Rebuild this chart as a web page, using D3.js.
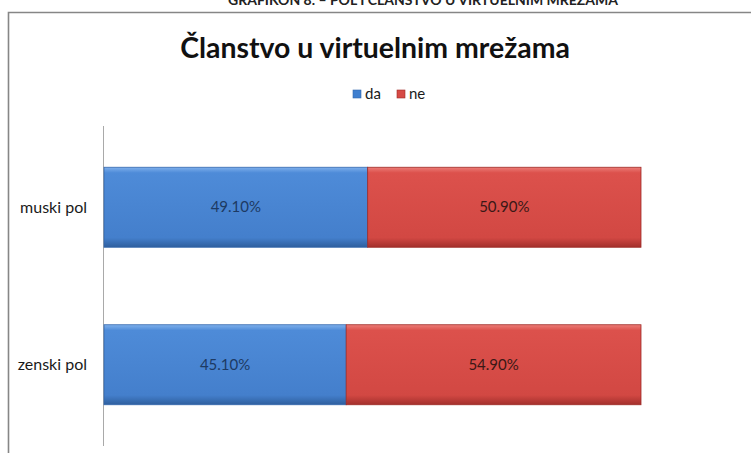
<!DOCTYPE html>
<html>
<head>
<meta charset="utf-8">
<script src="https://cdn.jsdelivr.net/npm/d3@7"></script>
<style>
  html, body { margin: 0; padding: 0; background: #fff; }
  svg { display: block; }
</style>
</head>
<body>
<script>
// Membership in online networks, split by gender
const categories = ["muski pol", "zenski pol"];
const seriesNames = ["da", "ne"];
const daValues = [49.1, 45.1];
const neValues = [50.9, 54.9];
const valueLabels = [["49.10%", "50.90%"], ["45.10%", "54.90%"]];

const W = 751, H = 453;
const font = "Lato, 'Open Sans', sans-serif";

const svg = d3.select("body").append("svg").attr("width", W).attr("height", H);
const defs = svg.append("defs");

function barGradient(id, c) {
  const g = defs.append("linearGradient").attr("id", id)
    .attr("x1", 0).attr("y1", 0).attr("x2", 0).attr("y2", 1);
  g.append("stop").attr("offset", "0%").attr("stop-color", c.hi);
  g.append("stop").attr("offset", "7%").attr("stop-color", c.top);
  g.append("stop").attr("offset", "88%").attr("stop-color", c.mid);
  g.append("stop").attr("offset", "100%").attr("stop-color", c.low);
}
barGradient("gDa", { hi: "#7fb0ec", top: "#4e8bd8", mid: "#447fcc", low: "#2e5f9e" });
barGradient("gNe", { hi: "#ec7d78", top: "#dc514c", mid: "#d24843", low: "#a3302c" });

const colors = { da: "url(#gDa)", ne: "url(#gNe)" };
const strokes = { da: "#3468ad", ne: "#9e2a26" };
const legendColors = { da: "#3f7fcf", ne: "#d64a45" };
const labelColors = { da: "#1d3a63", ne: "#3a1816" };

// Page heading (sits right at the top edge, lower half visible)
svg.append("text")
  .attr("x", 423).attr("y", 5)
  .attr("text-anchor", "middle")
  .attr("font-family", font).attr("font-weight", "bold")
  .attr("font-size", 14).attr("fill", "#222")
  .text("GRAFIKON 8. – POL I ČLANSTVO U VIRTUELNIM MREŽAMA");

// Chart frame
svg.append("path")
  .attr("d", `M8.5,${H + 2} L8.5,12.5 L${W + 2},12.5`)
  .attr("fill", "none").attr("stroke", "#868686").attr("stroke-width", 1.6);

// Title, sized to a fixed width
const title = svg.append("text")
  .attr("x", 375).attr("y", 58)
  .attr("text-anchor", "middle")
  .attr("font-family", font).attr("font-weight", "bold")
  .attr("font-size", 30).attr("fill", "#111")
  .text("Članstvo u virtuelnim mrežama");
const tw = title.node().getComputedTextLength();
title.attr("font-size", 30 * 390 / tw);

// Scales
const x = d3.scaleLinear().domain([0, 100]).range([104, 641]);
const y = d3.scaleBand().domain(categories).range([128.5, 443.5])
  .paddingInner(0.492).paddingOuter(0.246);

// Category axis line
svg.append("line")
  .attr("x1", 103.5).attr("x2", 103.5).attr("y1", 126).attr("y2", 446)
  .attr("stroke", "#a9a9a9").attr("stroke-width", 1);

// Category labels
svg.append("g").selectAll("text").data(categories).join("text")
  .attr("x", 87).attr("y", d => y(d) + y.bandwidth() / 2 + 5.5)
  .attr("text-anchor", "end")
  .attr("font-family", font).attr("font-size", 16).attr("fill", "#1a1a1a")
  .text(d => d);

// Stacked bars
const rows = categories.map((c, i) => ({ cat: c, da: daValues[i], ne: neValues[i], labels: valueLabels[i] }));
const stack = d3.stack().keys(seriesNames)(rows);

stack.forEach((layer, si) => {
  const key = layer.key;
  const g = svg.append("g");
  g.selectAll("rect").data(layer).join("rect")
    .attr("x", d => x(d[0]))
    .attr("y", d => y(d.data.cat))
    .attr("width", d => x(d[1]) - x(d[0]))
    .attr("height", y.bandwidth())
    .attr("fill", colors[key])
    .attr("stroke", strokes[key]).attr("stroke-width", 0.8);
  g.selectAll("text").data(layer).join("text")
    .attr("x", d => (x(d[0]) + x(d[1])) / 2)
    .attr("y", d => y(d.data.cat) + y.bandwidth() / 2 + 5)
    .attr("text-anchor", "middle")
    .attr("font-family", font).attr("font-size", 15)
    .attr("fill", labelColors[key])
    .text(d => d.data.labels[si]);
});

// Legend
const legendItems = [
  { key: "da", sx: 353, tx: 365 },
  { key: "ne", sx: 397, tx: 409 }
];
const lg = svg.append("g");
legendItems.forEach(it => {
  lg.append("rect").attr("x", it.sx).attr("y", 90).attr("width", 8).attr("height", 8)
    .attr("fill", legendColors[it.key]).attr("stroke", strokes[it.key]).attr("stroke-width", 0.6);
  lg.append("text").attr("x", it.tx).attr("y", 98.5)
    .attr("font-family", font).attr("font-size", 15).attr("fill", "#1a1a1a")
    .text(it.key);
});
</script>
</body>
</html>
